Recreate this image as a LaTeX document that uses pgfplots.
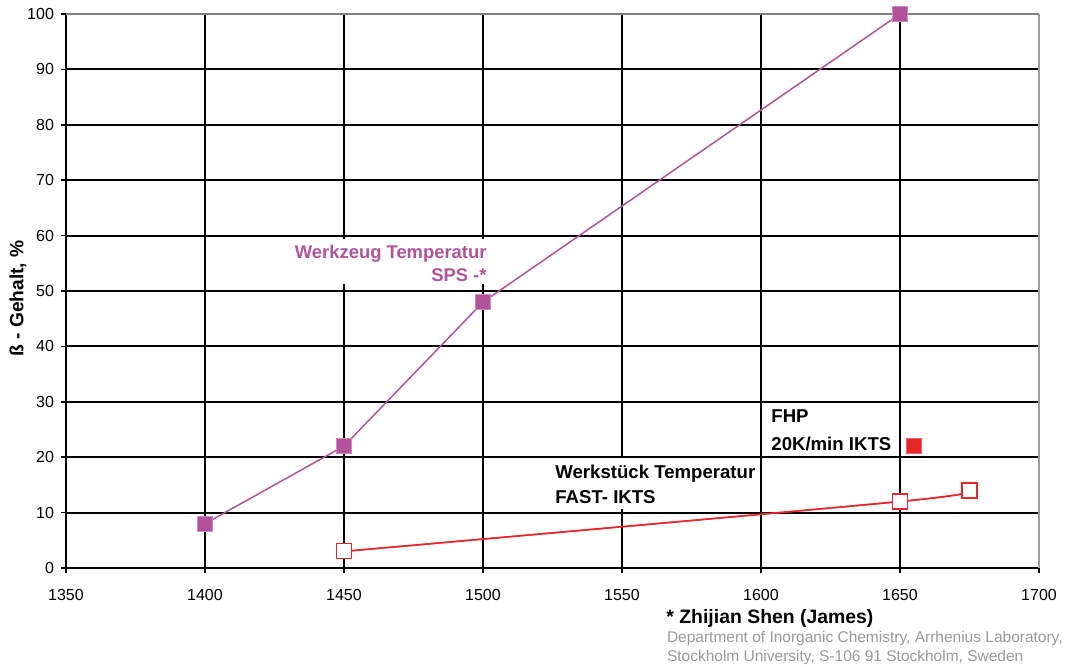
\documentclass[border=0pt]{standalone}
\usepackage{fontspec}
\setmainfont{Liberation Sans}
\usepackage{pgfplots}
\pgfplotsset{compat=1.18}
\definecolor{mag}{HTML}{B3529B}
\definecolor{magl}{HTML}{CC8CC0}
\definecolor{red1}{HTML}{E8262A}
\definecolor{gtxt}{HTML}{999999}
\begin{document}
\begin{tikzpicture}
\useasboundingbox (-33pt,-49pt) rectangle (506pt,284pt);
\begin{axis}[
 at={(0,0)}, anchor=south west,
 scale only axis, width=486.5pt, height=277pt,
 xmin=1350, xmax=1700, ymin=0, ymax=100,
 xtick={1350,1400,...,1700}, ytick={0,10,...,100},
 axis lines=left, axis line style={-, black, line width=1pt},
 tick style={black, line width=0.8pt}, tick align=outside, major tick length=2.5pt,
 grid=major, major grid style={black, line width=1pt},
 tick label style={font=\fontsize{8}{9.6}\selectfont},
 xticklabel style={yshift=-4.5pt},
 /pgf/number format/assume math mode=true,
 /pgf/number format/1000 sep={},
 clip=false,
 xlabel={* Zhijian Shen (James)},
 xlabel style={at={(axis description cs:0.7235,-0.0993)}, anchor=base, inner sep=0pt, font=\bfseries\fontsize{9.7}{11}\selectfont},
 ylabel={ß - Gehalt, \%},
 ylabel style={at={(axis description cs:-0.0495,0.4865)}, anchor=center, inner sep=0pt, font=\bfseries\fontsize{9.6}{11}\selectfont},
]
\draw[color=black!50, line width=1pt] (rel axis cs:0,1) -- (rel axis cs:1,1);
\draw[color=black!38, line width=1pt] (rel axis cs:1,1) -- (rel axis cs:1,0);
\fill[white] (axis cs:1430.6,51.3) rectangle (axis cs:1501.8,59.3);
\fill[white] (axis cs:1525.2,10.6) rectangle (axis cs:1599.4,19.9);
\node[anchor=base east, inner sep=0pt, text=mag, font=\bfseries\fontsize{9.2}{11}\selectfont] at (axis cs:1501.4,55.8) {Werkzeug Temperatur};
\node[anchor=base east, inner sep=0pt, text=mag, font=\bfseries\fontsize{9.2}{11}\selectfont] at (axis cs:1501.4,51.8) {SPS -*};
\node[anchor=base west, inner sep=0pt, font=\bfseries\fontsize{9.3}{11}\selectfont] at (axis cs:1525.9,16.1) {Werkstück Temperatur};
\node[anchor=base west, inner sep=0pt, font=\bfseries\fontsize{9.3}{11}\selectfont] at (axis cs:1525.9,11.6) {FAST- IKTS};
\node[anchor=base west, inner sep=0pt, font=\bfseries\fontsize{9.3}{11}\selectfont] at (axis cs:1603.6,26.2) {FHP};
\node[anchor=base west, inner sep=0pt, font=\bfseries\fontsize{9.3}{11}\selectfont] at (axis cs:1603.6,21.3) {20K/min IKTS};
\addplot[color=mag, line width=0.75pt, mark=square*, mark size=3.75pt, mark options={fill=mag, draw=magl, line width=0.4pt}]
 coordinates {(1400,8) (1450,22) (1500,48) (1650,100)};
\addplot[color=red1, line width=0.75pt, smooth, mark=square*, mark size=3.75pt, mark options={fill=white, draw=red1, line width=0.6pt}]
 coordinates {(1450,3) (1650,12) (1675,14)};
\addplot[color=red1, line width=0.75pt, smooth, mark=none]
 coordinates {(1450,3) (1650,12) (1675,14)};
\addplot[only marks, mark=square*, mark size=3.75pt, mark options={fill=red1, draw=red1!70!white, line width=0.4pt}]
 coordinates {(1655,22)};
\end{axis}
\node[anchor=base west, inner sep=0pt, text=gtxt, font=\fontsize{7.75}{9}\selectfont] at (300.3pt,-37.15pt) {Department of Inorganic Chemistry, Arrhenius Laboratory,};
\node[anchor=base west, inner sep=0pt, text=gtxt, font=\fontsize{7.75}{9}\selectfont] at (300.3pt,-46.65pt) {Stockholm University, S-106 91 Stockholm, Sweden};
\end{tikzpicture}
\end{document}
